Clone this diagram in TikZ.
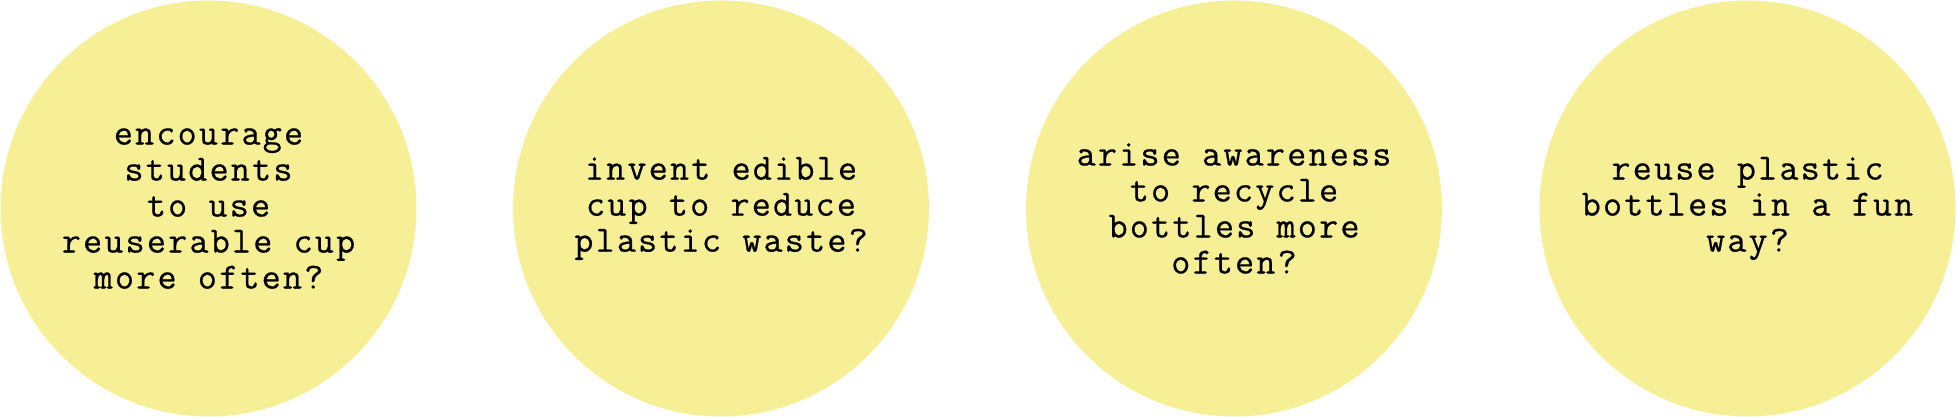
\documentclass[tikz,border=0pt]{standalone}
\usepackage{fontspec}
\setmonofont{Latin Modern Mono}[LetterSpace=6,FakeBold=0.5]
\definecolor{bubble}{HTML}{F7EF96}
\begin{document}
\begin{tikzpicture}[x=1pt,y=1pt,
  bub/.style={circle,fill=bubble,minimum size=416pt,inner sep=0pt},
  txt/.style={align=center,font=\ttfamily\fontsize{37}{36}\selectfont,text=black}]
\useasboundingbox (0,0) rectangle (1956,417);
\node[bub] (c1) at (208.5,208.5) {};
\node[bub] (c2) at (721,208.5) {};
\node[bub] (c3) at (1234,208.5) {};
\node[bub] (c4) at (1747.5,208.5) {};
\node[txt] (t1) at (c1) {encourage\\students\\to use\\reuserable cup\\more often?};
\node[txt] (t2) at (c2) {invent edible\\cup to reduce\\plastic waste?};
\node[txt] (t3) at (c3) {arise awareness\\to recycle\\bottles more\\often?};
\node[txt] (t4) at (c4) {reuse plastic\\bottles in a fun\\way?};
\end{tikzpicture}
\end{document}
